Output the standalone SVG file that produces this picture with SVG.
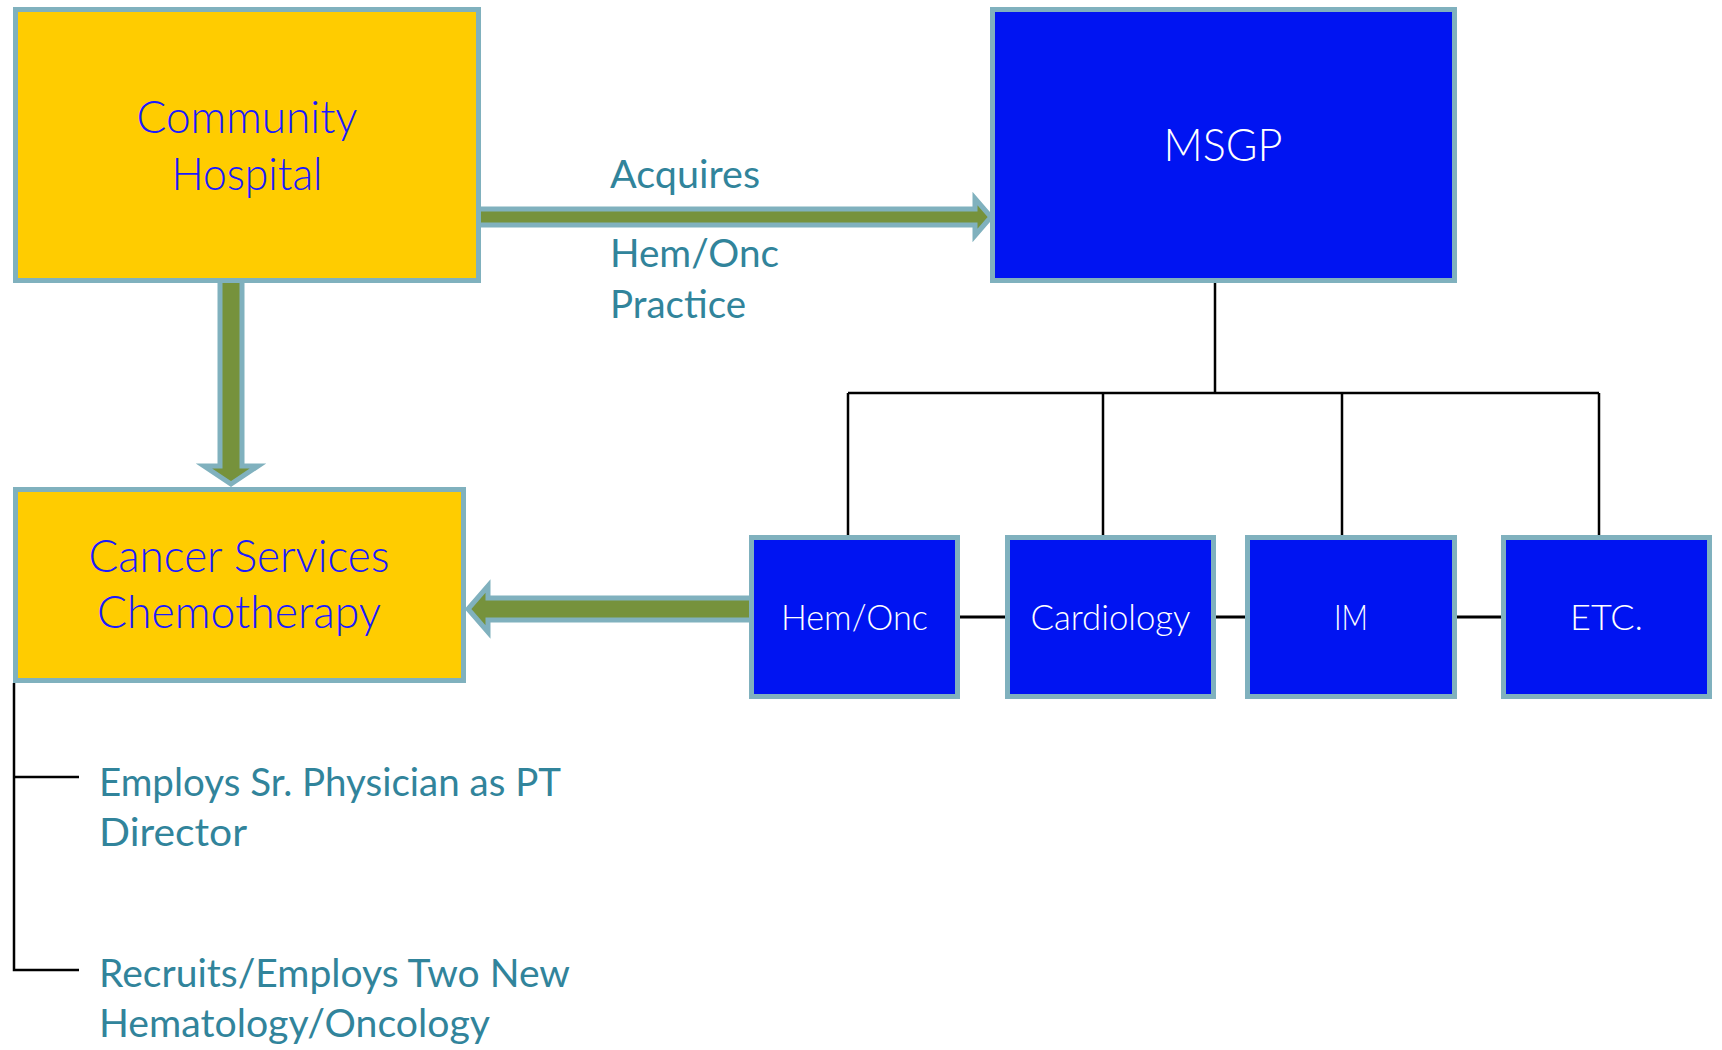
<svg xmlns="http://www.w3.org/2000/svg" width="1722" height="1050" viewBox="0 0 1722 1050">
<style>
.yel{fill:#FFCC00;stroke:#80B1BE;stroke-width:5}
.blu{fill:#0014F2;stroke:#80B1BE;stroke-width:5}
.arr{fill:#76923C;stroke:#80B1BE;stroke-width:5;stroke-linejoin:miter}
.ln{stroke:#000;stroke-width:2.5;fill:none}
.t{font-family:Lato,"Liberation Sans",Arial,sans-serif;font-weight:300;text-anchor:middle}
.ty{fill:#1A1AFF;font-size:45px}
.tw{fill:#FFFFFF}
.tl{font-family:Lato,"Liberation Sans",Arial,sans-serif;fill:#31849B;font-size:38px}
</style>
<rect width="1722" height="1050" fill="#FFFFFF"/>
<g id="connectors">
<polygon class="arr" points="478,209 975,209 975,198.5 991,217 975,235.5 975,225 478,225"/>
<polygon class="arr" points="220,278 242,278 242,466 258,466 231,484 204,466 220,466"/>
<polygon class="arr" points="755,598 488,598 488,586 468,609 488,632 488,620 755,620"/>
<path class="ln" d="M1215,283 V393 M848,393 H1599 M848,393 V537 M1103,393 V537 M1342,393 V537 M1599,393 V537"/>
<path class="ln" style="stroke-width:3" d="M960,617 H1006 M1216,617 H1245 M1456,617 H1501"/>
<path class="ln" d="M14,683 V970 H79 M14,777 H79"/>
</g>
<g id="community-hospital">
<rect class="yel" x="15.5" y="9.5" width="463" height="271"/>
<text class="t ty" x="247" y="133" textLength="221" lengthAdjust="spacingAndGlyphs">Community</text>
<text class="t ty" x="247" y="190" textLength="151" lengthAdjust="spacingAndGlyphs">Hospital</text>
</g>
<g id="msgp">
<rect class="blu" x="992.5" y="9.5" width="462" height="271"/>
<text class="t ty tw" x="1223" y="161" textLength="119" lengthAdjust="spacingAndGlyphs">MSGP</text>
</g>
<g id="cancer-services">
<rect class="yel" x="15.5" y="489.5" width="448" height="191"/>
<text class="t ty" x="239" y="572" textLength="301" lengthAdjust="spacingAndGlyphs">Cancer Services</text>
<text class="t ty" x="239" y="628" textLength="284" lengthAdjust="spacingAndGlyphs">Chemotherapy</text>
</g>
<g id="hem-onc">
<rect class="blu" x="751.5" y="537.5" width="206" height="159"/>
<text class="t tw" x="854.5" y="630" font-size="36" textLength="147" lengthAdjust="spacingAndGlyphs">Hem/Onc</text>
</g>
<g id="cardiology">
<rect class="blu" x="1007.5" y="537.5" width="206" height="159"/>
<text class="t tw" x="1110.5" y="630" font-size="36" textLength="160" lengthAdjust="spacingAndGlyphs">Cardiology</text>
</g>
<g id="im">
<rect class="blu" x="1247.5" y="537.5" width="207" height="159"/>
<text class="t tw" x="1351" y="630" font-size="36" textLength="34" lengthAdjust="spacingAndGlyphs">IM</text>
</g>
<g id="etc">
<rect class="blu" x="1503.5" y="537.5" width="206" height="159"/>
<text class="t tw" x="1606.5" y="630" font-size="36" textLength="73" lengthAdjust="spacingAndGlyphs">ETC.</text>
</g>
<g id="labels">
<text class="tl" x="610" y="188" textLength="150" lengthAdjust="spacingAndGlyphs">Acquires</text>
<text class="tl" x="610" y="267" textLength="169" lengthAdjust="spacingAndGlyphs">Hem/Onc</text>
<text class="tl" x="610" y="318" textLength="136" lengthAdjust="spacingAndGlyphs">Practice</text>
<text class="tl" x="99" y="796" textLength="462" lengthAdjust="spacingAndGlyphs">Employs Sr. Physician as PT</text>
<text class="tl" x="99" y="846" textLength="148" lengthAdjust="spacingAndGlyphs">Director</text>
<text class="tl" x="99" y="987" textLength="471" lengthAdjust="spacingAndGlyphs">Recruits/Employs Two New</text>
<text class="tl" x="99" y="1037" textLength="391" lengthAdjust="spacingAndGlyphs">Hematology/Oncology</text>
</g>
</svg>
